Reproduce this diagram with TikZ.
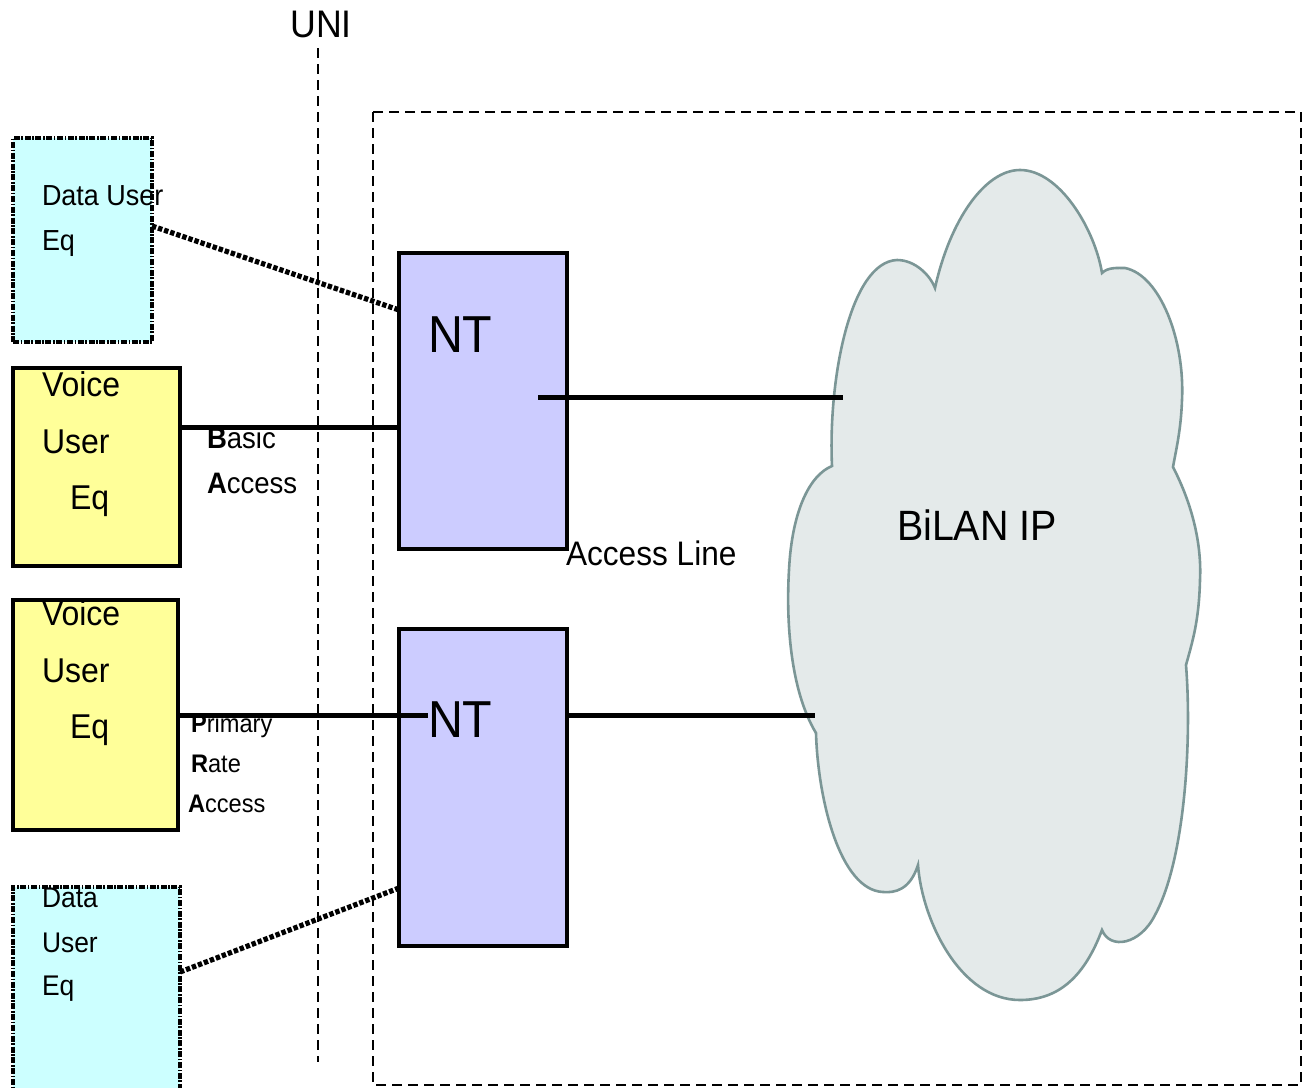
\documentclass[tikz,border=0pt]{standalone}
\usepackage{fontspec}
\setmainfont[FakeStretch=0.93]{Liberation Sans}
\usetikzlibrary{positioning}
\definecolor{datacyan}{HTML}{CCFFFF}
\definecolor{voiceyellow}{HTML}{FFFF99}
\definecolor{ntlilac}{HTML}{CCCCFF}
\definecolor{cloudgrey}{HTML}{E4EAEA}
\definecolor{cloudedge}{HTML}{7B9696}
\newcommand\fsz[1]{\fontsize{#1}{#1}\selectfont}

\begin{document}
\begin{tikzpicture}[x=0.5pt, y=-0.5pt,
  every node/.style={inner sep=0pt, outer sep=0pt},
  txt/.style={anchor=base west},
  databox/.style={draw, fill=datacyan, line width=1.8pt, dash pattern=on 3pt off 0.8pt on 0.8pt off 0.8pt, anchor=north west},
  voicebox/.style={draw, fill=voiceyellow, line width=2.2pt, anchor=north west},
  ntbox/.style={draw, fill=ntlilac, line width=2pt, anchor=north west},
  link/.style={line width=2.5pt},
  dotlink/.style={line width=2.6pt, dash pattern=on 2.2pt off 1pt},
  frame/.style={line width=0.9pt, dash pattern=on 5pt off 3pt}]
  \useasboundingbox (0,0) rectangle (1308,1088);

  % UNI reference point and provider frame
  \node[anchor=base] (uni) at (321,37) {\fsz{19.2}UNI};
  \draw[frame] (318,48) -- (318,1062);
  \draw[frame] (373,112) rectangle (1301,1085);

  % BiLAN IP cloud
  \draw[cloudedge, fill=cloudgrey, line width=1.3pt]
    (832,466) .. controls (828,380) and (850,262) .. (897,260)
    .. controls (915,260) and (930,275) .. (935,288)
    .. controls (950,220) and (985,170) .. (1020,170)
    .. controls (1060,170) and (1095,230) .. (1102,273)
    .. controls (1108,267) and (1118,268) .. (1125,268)
    .. controls (1160,275) and (1185,340) .. (1182,400)
    .. controls (1181,430) and (1176,450) .. (1173,467)
    .. controls (1190,500) and (1202,540) .. (1200,580)
    .. controls (1199,620) and (1193,640) .. (1186,665)
    .. controls (1192,740) and (1185,860) .. (1155,915)
    .. controls (1140,945) and (1110,950) .. (1102,930)
    .. controls (1085,975) and (1060,1000) .. (1020,1000)
    .. controls (960,1000) and (922,920) .. (918,865)
    .. controls (910,890) and (895,893) .. (883,892)
    .. controls (840,890) and (818,800) .. (816,733)
    .. controls (790,690) and (786,620) .. (789,570)
    .. controls (792,510) and (810,475) .. (832,466) -- cycle;
  \node[txt] (bilan) at (897,540) {\fsz{21.2}BiLAN IP};
  \coordinate (cloudin1) at (843,397);
  \coordinate (cloudin2) at (815,715);

  % user equipment
  \node[databox, minimum width=69.5pt, minimum height=102pt] (dbox1) at (13,138) {};
  \node[voicebox, minimum width=83.5pt, minimum height=99pt] (vbox1) at (13,368) {};
  \node[voicebox, minimum width=82.5pt, minimum height=115pt] (vbox2) at (13,600) {};
  \node[databox, minimum width=83.5pt, minimum height=115pt] (dbox2) at (13,887) {};

  % network terminations
  \node[ntbox, minimum width=84pt, minimum height=148pt] (nt1) at (399,253) {};
  \node[ntbox, minimum width=84pt, minimum height=158.5pt] (nt2) at (399,629) {};
  \node[txt] (nt1lbl) at (428,352) {\fsz{26}NT};
  \node[txt] (nt2lbl) at (428,737) {\fsz{26}NT};

  % access lines
  \draw[link] (vbox1.east |- 0,427) -- (nt1.west |- 0,427);
  \draw[link] (cloudin1 -| 538,0) -- (cloudin1);
  \draw[link] (vbox2.east) -- (nt2lbl.west |- vbox2.east);
  \draw[link] (nt2.east |- vbox2.east) -- (cloudin2);
  \draw[dotlink] (dbox1.east |- 0,226) -- (nt1.west |- 0,310);
  \draw[dotlink] (dbox2.east |- 0,972) -- (nt2.west |- 0,888);

  % box texts
  \node[txt] at (42,205) {\fsz{14.5}Data User};
  \node[txt] at (42,250) {\fsz{14.5}Eq};
  \node[txt] at (42,396) {\fsz{17.2}Voice};
  \node[txt] at (42,453) {\fsz{17.2}User};
  \node[txt] at (70,509) {\fsz{17.2}Eq};
  \node[txt] at (42,625) {\fsz{17.2}Voice};
  \node[txt] at (42,682) {\fsz{17.2}User};
  \node[txt] at (70,738) {\fsz{17.2}Eq};
  \node[txt] at (42,907) {\fsz{14.2}Data};
  \node[txt] at (42,952) {\fsz{14.2}User};
  \node[txt] at (42,995) {\fsz{14.2}Eq};

  % line labels
  \node[txt] at (207,448) {\fsz{14.8}\textbf{B}asic};
  \node[txt] at (207,493) {\fsz{14.8}\textbf{A}ccess};
  \node[txt] at (191,732) {\fsz{12.7}\textbf{P}rimary};
  \node[txt] at (191,772) {\fsz{12.7}\textbf{R}ate};
  \node[txt] at (188,812) {\fsz{12.7}\textbf{A}ccess};
  \node[txt] (aline) at (566,565) {\fsz{17}Access Line};
\end{tikzpicture}
\end{document}
